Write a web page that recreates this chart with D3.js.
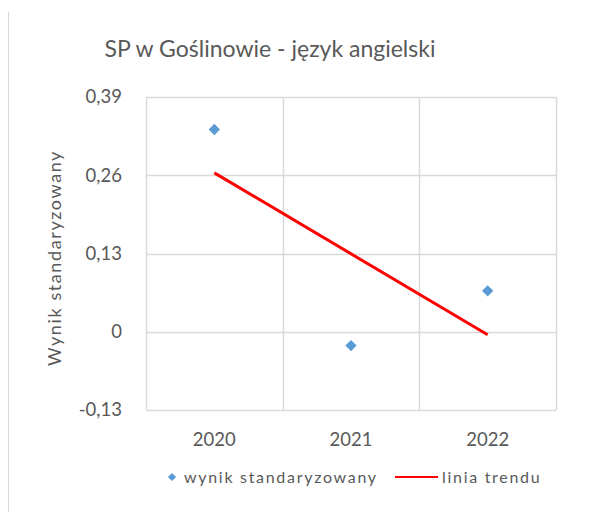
<!DOCTYPE html>
<html>
<head>
<meta charset="utf-8">
<script src="https://cdn.jsdelivr.net/npm/d3@7"></script>
<style>
  body { margin: 0; background: #fff; }
  text { font-family: Lato, "Open Sans", sans-serif; fill: #595959; }
</style>
</head>
<body>
<svg class="chart"></svg>
<script>
var years = ["2020", "2021", "2022"];
var wynik = [0.336, -0.023, 0.068];
var trend = [0.264, -0.005];
var yTicks = [-0.13, 0, 0.13, 0.26, 0.39];

var width = 606;
var height = 512;
var svg = d3.select(".chart").attr("width", width).attr("height", height);

var pLeft = 146, pRight = 556, pTop = 97, pBottom = 410;

var x_scale = d3.scaleBand()
    .domain(years)
    .range([pLeft, pRight]);

var y_scale = d3.scaleLinear()
    .domain([-0.13, 0.39])
    .range([pBottom, pTop]);

// excel style: comma decimal, plain hyphen minus
var fmt = function(d){ return d === 0 ? "0" : d3.format(".2f")(d).replace(".", ",").replace("\u2212", "-"); };
var cx = function(d){ return x_scale(d) + x_scale.bandwidth() / 2; };

// left border of the chart box
svg.append("line")
    .attr("x1", 8.5).attr("x2", 8.5)
    .attr("y1", 12).attr("y2", height)
    .attr("stroke", "#d9d9d9");

// horizontal grid
svg.append("g")
    .selectAll("line")
    .data(yTicks)
    .join("line")
    .attr("x1", pLeft).attr("x2", pRight)
    .attr("y1", function(d){ return Math.round(y_scale(d)) + 0.5; })
    .attr("y2", function(d){ return Math.round(y_scale(d)) + 0.5; })
    .attr("stroke", "#d9d9d9")
    .attr("stroke-width", 1.5);

// vertical grid at category borders
var xb = years.map(function(d){ return x_scale(d); }).concat([pRight]);
svg.append("g")
    .selectAll("line")
    .data(xb)
    .join("line")
    .attr("x1", function(d){ return Math.round(d) + 0.5; })
    .attr("x2", function(d){ return Math.round(d) + 0.5; })
    .attr("y1", pTop).attr("y2", pBottom)
    .attr("stroke", "#d9d9d9")
    .attr("stroke-width", 1.5);

// y labels
svg.append("g")
    .selectAll("text")
    .data(yTicks)
    .join("text")
    .attr("x", pLeft - 24)
    .attr("y", function(d){ return y_scale(d); })
    .attr("dy", "0.35em")
    .attr("text-anchor", "end")
    .style("font-size", "18.5px")
    .text(fmt);

// x labels
svg.append("g")
    .selectAll("text")
    .data(years)
    .join("text")
    .attr("x", cx)
    .attr("y", 446)
    .attr("text-anchor", "middle")
    .style("font-size", "18.5px")
    .text(function(d){ return d; });

// trend line
svg.append("line")
    .attr("x1", cx(years[0])).attr("y1", y_scale(trend[0]))
    .attr("x2", cx(years[2])).attr("y2", y_scale(trend[1]))
    .attr("stroke", "#ff0000")
    .attr("stroke-width", 3);

// points
var diamond = d3.symbol().type(d3.symbolSquare).size(64);
svg.append("g")
    .selectAll("path")
    .data(wynik)
    .join("path")
    .attr("d", diamond)
    .attr("transform", function(d, i){ return "translate(" + cx(years[i]) + "," + y_scale(d) + ") rotate(45)"; })
    .attr("fill", "#5b9bd5");

// title
svg.append("text")
    .attr("x", 270)
    .attr("y", 57)
    .attr("text-anchor", "middle")
    .style("font-size", "23px")
    .text("SP w Goślinowie - język angielski");

// y axis title
svg.append("text")
    .attr("transform", "translate(61,258) rotate(-90)")
    .attr("text-anchor", "middle")
    .style("font-size", "18px")
    .style("letter-spacing", "1.6px")
    .text("Wynik standaryzowany");

// legend
var lg = svg.append("g");
lg.append("path")
    .attr("d", d3.symbol().type(d3.symbolSquare).size(34))
    .attr("transform", "translate(172,477) rotate(45)")
    .attr("fill", "#5b9bd5");
lg.append("text")
    .attr("x", 184).attr("y", 483)
    .style("font-size", "16px")
    .style("letter-spacing", "1.7px")
    .text("wynik standaryzowany");
lg.append("line")
    .attr("x1", 395).attr("x2", 438)
    .attr("y1", 477).attr("y2", 477)
    .attr("stroke", "#ff0000")
    .attr("stroke-width", 2);
lg.append("text")
    .attr("x", 442).attr("y", 483)
    .style("font-size", "16px")
    .style("letter-spacing", "1.7px")
    .text("linia trendu");
</script>
</body>
</html>
